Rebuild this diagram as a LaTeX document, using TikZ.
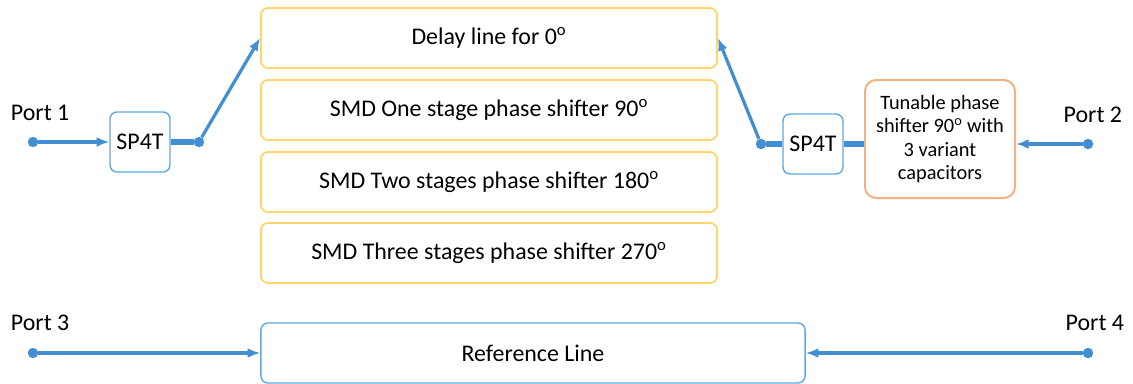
\documentclass[tikz,border=0pt]{standalone}
\usepackage{fontspec}
\setmainfont{Carlito}
\usetikzlibrary{arrows.meta,positioning}

\definecolor{linkblue}{RGB}{66,142,210}
\definecolor{switchblue}{RGB}{96,168,228}
\definecolor{delayyellow}{RGB}{255,212,105}
\definecolor{tuneorange}{RGB}{244,176,128}

\tikzset{
    every node/.style={font=\fontsize{17}{20}\selectfont},
    delaybox/.style={draw=delayyellow, line width=1.2pt, rounded corners=5pt, minimum width=11.4cm, minimum height=1.5cm, inner sep=0pt},
    switchbox/.style={draw=switchblue, line width=1pt, rounded corners=5pt, minimum width=1.5cm, minimum height=1.5cm, inner sep=0pt},
    tunebox/.style={draw=tuneorange, line width=1.4pt, rounded corners=8pt, minimum width=3.75cm, minimum height=2.95cm, align=center, font=\fontsize{14.5}{16.7}\selectfont},
    refbox/.style={draw=switchblue, line width=1pt, rounded corners=5pt, minimum width=13.6cm, minimum height=1.5cm, inner sep=0pt},
    portdot/.style={circle, fill=linkblue, minimum size=0.26cm, inner sep=0pt},
    link/.style={draw=linkblue, line width=2.3pt, -{Latex[length=9pt,width=7pt]}},
    feed/.style={draw=linkblue, line width=3.9pt},
}

\newcommand{\degsign}{\textsuperscript{o}}

\begin{document}
\begin{tikzpicture}[x=0.025cm, y=-0.025cm]
\useasboundingbox (0,0) rectangle (1133,383);

% phase shifter bank
\node[delaybox] (d0)   at (489,38)  {Delay line for 0\degsign};
\node[delaybox] (d90)  at (489,110) {SMD One stage phase shifter 90\degsign};
\node[delaybox] (d180) at (489,182) {SMD Two stages phase shifter 180\degsign};
\node[delaybox] (d270) at (489,253) {SMD Three stages phase shifter 270\degsign};

% switches
\node[switchbox] (sw1) at (140,142) {SP4T};
\node[switchbox] (sw2) at (813,144) {SP4T};
\node[tunebox] (tune) at (940,139) {Tunable phase\\shifter 90\degsign{} with\\3 variant\\capacitors};

% reference
\node[refbox] (ref) at (533,353) {Reference Line};

% ports
\node[portdot] (p1) at (33,142) {};
\node[portdot] (p2) at (1088,144) {};
\node[portdot] (p3) at (33,353) {};
\node[portdot] (p4) at (1088,353) {};
\node[portdot] (j1) at (199,142) {};
\node[portdot] (j2) at (761,144) {};

\node[anchor=west] (l1) at (6,113) {Port 1};
\node[anchor=east] (l2) at (1127,115) {Port 2};
\node[anchor=west] (l3) at (6,323) {Port 3};
\node[anchor=east] (l4) at (1129,323) {Port 4};

% connectors
\draw[link] (p1) -- (sw1);
\draw[feed] (sw1) -- (j1);
\draw[link] (j1) -- (d0.west);
\draw[feed] (sw2) -- (sw2.east -| tune.west);
\draw[link] (j2) -- (d0.east);
\draw[feed] (j2) -- (sw2);
\draw[link] (p2) -- (p2 -| tune.east);
\draw[link] (p3) -- (ref.west);
\draw[link] (p4) -- (ref.east);

\end{tikzpicture}
\end{document}
